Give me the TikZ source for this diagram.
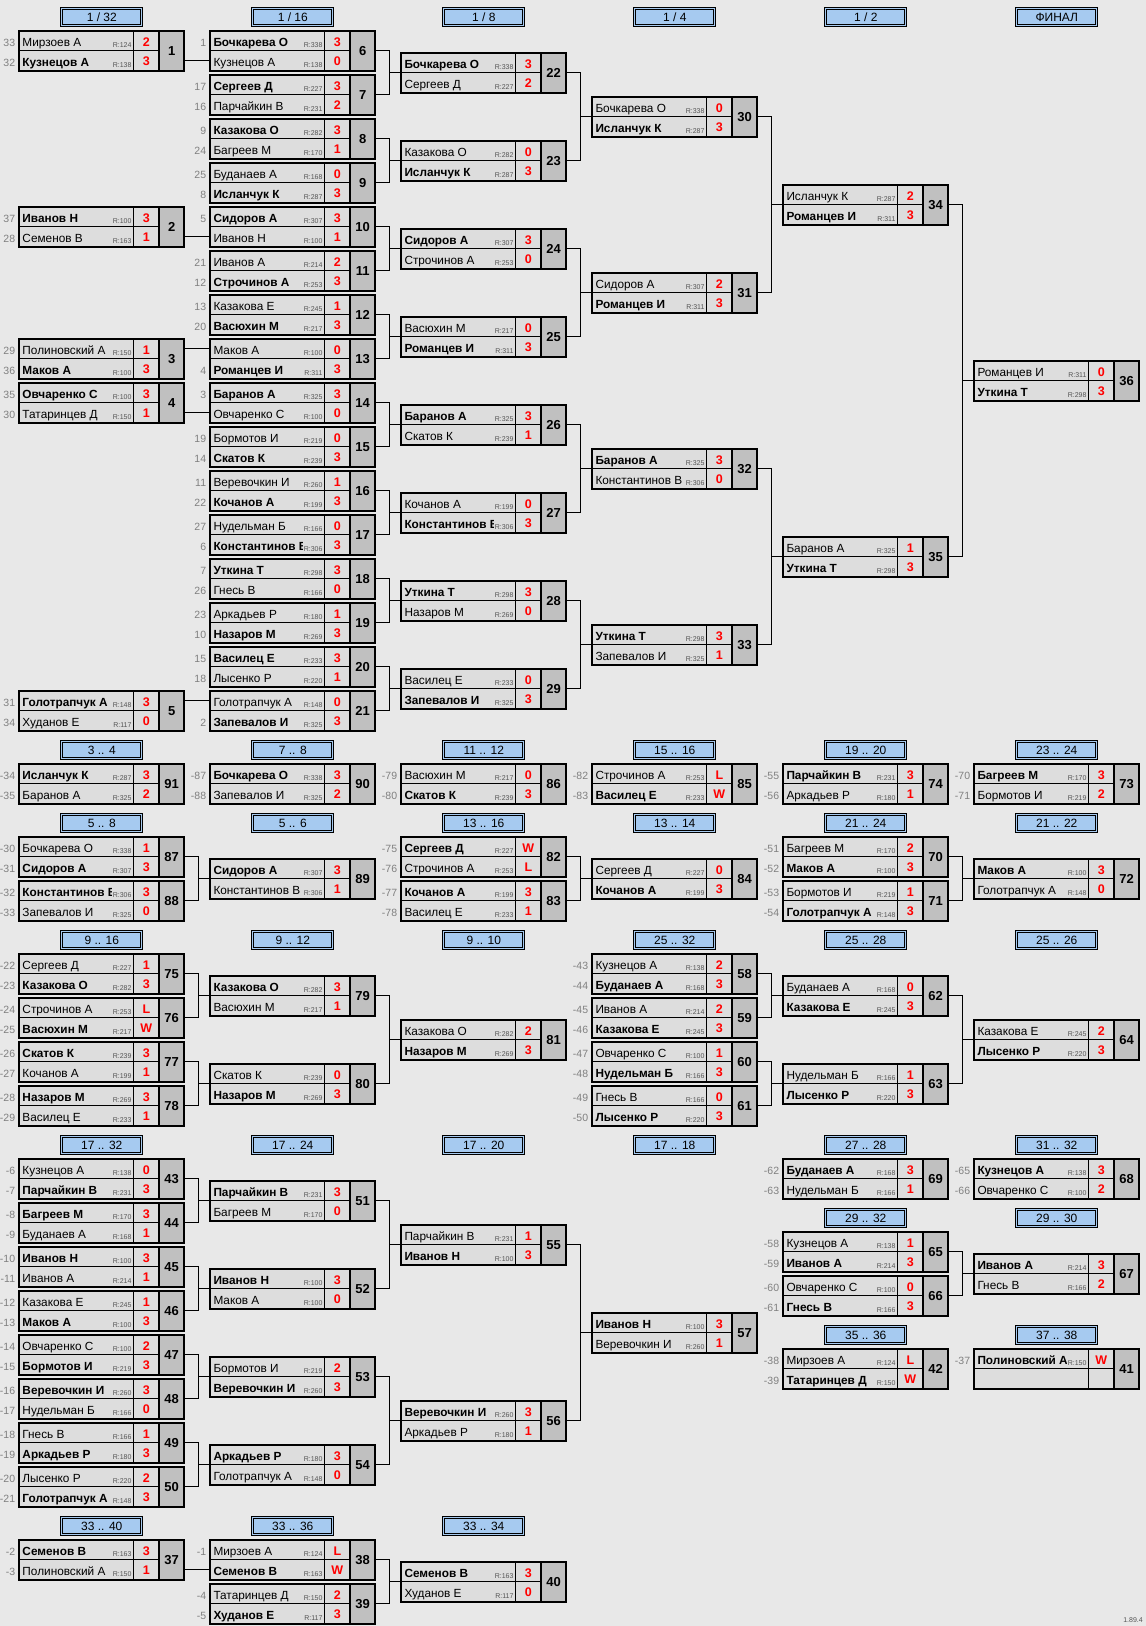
\documentclass[tikz,border=0pt]{standalone}
\usepackage{fontspec}
\setmainfont{Liberation Sans}
\definecolor{pagegray}{RGB}{232,232,232}
\definecolor{cellgray}{RGB}{221,221,221}
\definecolor{numgray}{RGB}{192,192,192}
\definecolor{headblue}{RGB}{166,202,240}
\definecolor{seedgray}{RGB}{128,128,128}
\definecolor{rategray}{RGB}{85,85,85}
\tikzset{
  gbox/.style={draw, line width=2pt, fill=cellgray, minimum width=165pt, minimum height=39.5pt, inner sep=0pt, outer sep=0pt, anchor=north west},
  numcell/.style={draw, line width=2pt, fill=numgray, minimum width=25.3pt, minimum height=39.5pt, inner sep=0pt, outer sep=0pt, anchor=east, font=\fontsize{13}{13}\selectfont\bfseries},
  rowcell/.style={minimum width=114.4pt, minimum height=19.75pt, inner sep=0pt, outer sep=0pt},
  cellline/.style={line width=0.8pt},
  link/.style={line width=0.9pt},
  seed/.style={anchor=east, text=seedgray, inner sep=0pt, text height=8.5pt, text depth=0pt, yshift=-1.3pt, font=\fontsize{10.5}{11}\selectfont},
  loser/.style={anchor=west, inner sep=0pt, xshift=3pt, yshift=-1.3pt, text height=8.5pt, text depth=0pt, font=\fontsize{11.8}{12}\selectfont},
  winner/.style={loser, font=\fontsize{11.8}{12}\selectfont\bfseries},
  rate/.style={anchor=south east, fill=cellgray, inner xsep=1pt, inner ysep=2pt, text height=13pt, xshift=-1pt, yshift=1pt, text=rategray, font=\fontsize{7}{7}\selectfont},
  pts/.style={inner sep=0pt, text height=8.6pt, text depth=0pt, yshift=-1pt, text=red, font=\fontsize{12.5}{12}\selectfont\bfseries},
  hdr/.style={draw, double=headblue, double distance=1.2pt, line width=0.8pt, fill=headblue, minimum width=80pt, minimum height=16.4pt, inner sep=0pt, font=\fontsize{12}{12}\selectfont}
}
% one game box: id, x, top, number
\newcommand{\game}[4]{%
  \node[gbox] (#1) at (#2,#3) {};
  \node[rowcell, anchor=north west] (#1-1) at (#1.north west) {};
  \node[rowcell, anchor=south west] (#1-2) at (#1.south west) {};
  \node[numcell] (#1-n) at (#1.east) {#4};
  \draw[cellline] (#1.west) -- (#1-n.west);
  \draw[cellline] (#1-1.north east) -- (#1-2.south east);
}
% one player row: id, row, seed, name, rating, score, style
\newcommand{\pl}[7]{%
  \node[seed] (#1-#2-s) at ([xshift=-4pt]#1-#2.west) {#3};
  \node[#7] (#1-#2-p) at (#1-#2.west) {#4};
  \node[rate] (#1-#2-r) at (#1-#2.south east) {R:#5};
  \node[pts] (#1-#2-x) at ([xshift=12.65pt]#1-#2.east) {#6};
}
\newcommand{\win}[6]{\pl{#1}{#2}{#3}{#4}{#5}{#6}{winner}}
\newcommand{\lose}[6]{\pl{#1}{#2}{#3}{#4}{#5}{#6}{loser}}
% two games into the next one
\newcommand{\feed}[3]{%
  \draw[link] (#1-n.east) -- ++(14,0) |- (#2-n.east);
  \draw[link] (#3.west) -- ++(-12,0);
}
% winner line straight into a row of the next game
\newcommand{\carry}[3]{\draw[link] (#1-n.east |- #2-#3) -- (#2-#3.west);}

\begin{document}
\begin{tikzpicture}[x=1pt,y=-1pt]
  \def\xa{19.3}
  \def\xb{210.3}
  \def\xc{401.3}
  \def\xd{592.3}
  \def\xe{783.3}
  \def\xf{974.3}
  \fill[pagegray] (0,0) rectangle (1146,1626);
  \useasboundingbox (0,0) rectangle (1146,1626);

  % headers
  \node[hdr] (h1) at (\xa+82.5,17) {1 / 32};
  \node[hdr] (h2) at (\xb+82.5,17) {1 / 16};
  \node[hdr] (h3) at (\xc+82.5,17) {1 / 8};
  \node[hdr] (h4) at (\xd+82.5,17) {1 / 4};
  \node[hdr] (h5) at (\xe+82.5,17) {1 / 2};
  \node[hdr] (h6) at (\xf+82.5,17) {ФИНАЛ};

  \node[hdr] (ha1) at (\xa+82.5,750) {3 .. 4};
  \node[hdr] (ha2) at (\xb+82.5,750) {7 .. 8};
  \node[hdr] (ha3) at (\xc+82.5,750) {11 .. 12};
  \node[hdr] (ha4) at (\xd+82.5,750) {15 .. 16};
  \node[hdr] (ha5) at (\xe+82.5,750) {19 .. 20};
  \node[hdr] (ha6) at (\xf+82.5,750) {23 .. 24};

  \node[hdr] (hb1) at (\xa+82.5,823) {5 .. 8};
  \node[hdr] (hb2) at (\xb+82.5,823) {5 .. 6};
  \node[hdr] (hb3) at (\xc+82.5,823) {13 .. 16};
  \node[hdr] (hb4) at (\xd+82.5,823) {13 .. 14};
  \node[hdr] (hb5) at (\xe+82.5,823) {21 .. 24};
  \node[hdr] (hb6) at (\xf+82.5,823) {21 .. 22};

  \node[hdr] (hc1) at (\xa+82.5,940) {9 .. 16};
  \node[hdr] (hc2) at (\xb+82.5,940) {9 .. 12};
  \node[hdr] (hc3) at (\xc+82.5,940) {9 .. 10};
  \node[hdr] (hc4) at (\xd+82.5,940) {25 .. 32};
  \node[hdr] (hc5) at (\xe+82.5,940) {25 .. 28};
  \node[hdr] (hc6) at (\xf+82.5,940) {25 .. 26};

  \node[hdr] (hd1) at (\xa+82.5,1145) {17 .. 32};
  \node[hdr] (hd2) at (\xb+82.5,1145) {17 .. 24};
  \node[hdr] (hd3) at (\xc+82.5,1145) {17 .. 20};
  \node[hdr] (hd4) at (\xd+82.5,1145) {17 .. 18};
  \node[hdr] (hd5) at (\xe+82.5,1145) {27 .. 28};
  \node[hdr] (hd6) at (\xf+82.5,1145) {31 .. 32};
  \node[hdr] (he5) at (\xe+82.5,1218) {29 .. 32};
  \node[hdr] (he6) at (\xf+82.5,1218) {29 .. 30};
  \node[hdr] (hf5) at (\xe+82.5,1335) {35 .. 36};
  \node[hdr] (hf6) at (\xf+82.5,1335) {37 .. 38};

  \node[hdr] (hg1) at (\xa+82.5,1526) {33 .. 40};
  \node[hdr] (hg2) at (\xb+82.5,1526) {33 .. 36};
  \node[hdr] (hg3) at (\xc+82.5,1526) {33 .. 34};

  % 1/32
  \game{m1}{\xa}{31}{1}
  \lose{m1}{1}{33}{Мирзоев А}{124}{2}
  \win{m1}{2}{32}{Кузнецов А}{138}{3}
  \game{m2}{\xa}{207}{2}
  \win{m2}{1}{37}{Иванов Н}{100}{3}
  \lose{m2}{2}{28}{Семенов В}{163}{1}
  \game{m3}{\xa}{339}{3}
  \lose{m3}{1}{29}{Полиновский А}{150}{1}
  \win{m3}{2}{36}{Маков А}{100}{3}
  \game{m4}{\xa}{383}{4}
  \win{m4}{1}{35}{Овчаренко С}{100}{3}
  \lose{m4}{2}{30}{Татаринцев Д}{150}{1}
  \game{m5}{\xa}{691}{5}
  \win{m5}{1}{31}{Голотрапчук А}{148}{3}
  \lose{m5}{2}{34}{Худанов Е}{117}{0}

  % 1/16
  \game{m6}{\xb}{31}{6}
  \win{m6}{1}{1}{Бочкарева О}{338}{3}
  \lose{m6}{2}{}{Кузнецов А}{138}{0}
  \game{m7}{\xb}{75}{7}
  \win{m7}{1}{17}{Сергеев Д}{227}{3}
  \lose{m7}{2}{16}{Парчайкин В}{231}{2}
  \game{m8}{\xb}{119}{8}
  \win{m8}{1}{9}{Казакова О}{282}{3}
  \lose{m8}{2}{24}{Багреев М}{170}{1}
  \game{m9}{\xb}{163}{9}
  \lose{m9}{1}{25}{Буданаев А}{168}{0}
  \win{m9}{2}{8}{Исланчук К}{287}{3}
  \game{m10}{\xb}{207}{10}
  \win{m10}{1}{5}{Сидоров А}{307}{3}
  \lose{m10}{2}{}{Иванов Н}{100}{1}
  \game{m11}{\xb}{251}{11}
  \lose{m11}{1}{21}{Иванов А}{214}{2}
  \win{m11}{2}{12}{Строчинов А}{253}{3}
  \game{m12}{\xb}{295}{12}
  \lose{m12}{1}{13}{Казакова Е}{245}{1}
  \win{m12}{2}{20}{Васюхин М}{217}{3}
  \game{m13}{\xb}{339}{13}
  \lose{m13}{1}{}{Маков А}{100}{0}
  \win{m13}{2}{4}{Романцев И}{311}{3}
  \game{m14}{\xb}{383}{14}
  \win{m14}{1}{3}{Баранов А}{325}{3}
  \lose{m14}{2}{}{Овчаренко С}{100}{0}
  \game{m15}{\xb}{427}{15}
  \lose{m15}{1}{19}{Бормотов И}{219}{0}
  \win{m15}{2}{14}{Скатов К}{239}{3}
  \game{m16}{\xb}{471}{16}
  \lose{m16}{1}{11}{Веревочкин И}{260}{1}
  \win{m16}{2}{22}{Кочанов А}{199}{3}
  \game{m17}{\xb}{515}{17}
  \lose{m17}{1}{27}{Нудельман Б}{166}{0}
  \win{m17}{2}{6}{Константинов В}{306}{3}
  \game{m18}{\xb}{559}{18}
  \win{m18}{1}{7}{Уткина Т}{298}{3}
  \lose{m18}{2}{26}{Гнесь В}{166}{0}
  \game{m19}{\xb}{603}{19}
  \lose{m19}{1}{23}{Аркадьев Р}{180}{1}
  \win{m19}{2}{10}{Назаров М}{269}{3}
  \game{m20}{\xb}{647}{20}
  \win{m20}{1}{15}{Василец Е}{233}{3}
  \lose{m20}{2}{18}{Лысенко Р}{220}{1}
  \game{m21}{\xb}{691}{21}
  \lose{m21}{1}{}{Голотрапчук А}{148}{0}
  \win{m21}{2}{2}{Запевалов И}{325}{3}

  % 1/8
  \game{m22}{\xc}{53}{22}
  \win{m22}{1}{}{Бочкарева О}{338}{3}
  \lose{m22}{2}{}{Сергеев Д}{227}{2}
  \game{m23}{\xc}{141}{23}
  \lose{m23}{1}{}{Казакова О}{282}{0}
  \win{m23}{2}{}{Исланчук К}{287}{3}
  \game{m24}{\xc}{229}{24}
  \win{m24}{1}{}{Сидоров А}{307}{3}
  \lose{m24}{2}{}{Строчинов А}{253}{0}
  \game{m25}{\xc}{317}{25}
  \lose{m25}{1}{}{Васюхин М}{217}{0}
  \win{m25}{2}{}{Романцев И}{311}{3}
  \game{m26}{\xc}{405}{26}
  \win{m26}{1}{}{Баранов А}{325}{3}
  \lose{m26}{2}{}{Скатов К}{239}{1}
  \game{m27}{\xc}{493}{27}
  \lose{m27}{1}{}{Кочанов А}{199}{0}
  \win{m27}{2}{}{Константинов В}{306}{3}
  \game{m28}{\xc}{581}{28}
  \win{m28}{1}{}{Уткина Т}{298}{3}
  \lose{m28}{2}{}{Назаров М}{269}{0}
  \game{m29}{\xc}{669}{29}
  \lose{m29}{1}{}{Василец Е}{233}{0}
  \win{m29}{2}{}{Запевалов И}{325}{3}

  % 1/4
  \game{m30}{\xd}{97}{30}
  \lose{m30}{1}{}{Бочкарева О}{338}{0}
  \win{m30}{2}{}{Исланчук К}{287}{3}
  \game{m31}{\xd}{273}{31}
  \lose{m31}{1}{}{Сидоров А}{307}{2}
  \win{m31}{2}{}{Романцев И}{311}{3}
  \game{m32}{\xd}{449}{32}
  \win{m32}{1}{}{Баранов А}{325}{3}
  \lose{m32}{2}{}{Константинов В}{306}{0}
  \game{m33}{\xd}{625}{33}
  \win{m33}{1}{}{Уткина Т}{298}{3}
  \lose{m33}{2}{}{Запевалов И}{325}{1}

  % 1/2 and final
  \game{m34}{\xe}{185}{34}
  \lose{m34}{1}{}{Исланчук К}{287}{2}
  \win{m34}{2}{}{Романцев И}{311}{3}
  \game{m35}{\xe}{537}{35}
  \lose{m35}{1}{}{Баранов А}{325}{1}
  \win{m35}{2}{}{Уткина Т}{298}{3}
  \game{m36}{\xf}{361}{36}
  \lose{m36}{1}{}{Романцев И}{311}{0}
  \win{m36}{2}{}{Уткина Т}{298}{3}

  \carry{m1}{m6}{2}
  \carry{m2}{m10}{2}
  \carry{m3}{m13}{1}
  \carry{m4}{m14}{2}
  \carry{m5}{m21}{1}
  \feed{m6}{m7}{m22}
  \feed{m8}{m9}{m23}
  \feed{m10}{m11}{m24}
  \feed{m12}{m13}{m25}
  \feed{m14}{m15}{m26}
  \feed{m16}{m17}{m27}
  \feed{m18}{m19}{m28}
  \feed{m20}{m21}{m29}
  \feed{m22}{m23}{m30}
  \feed{m24}{m25}{m31}
  \feed{m26}{m27}{m32}
  \feed{m28}{m29}{m33}
  \feed{m30}{m31}{m34}
  \feed{m32}{m33}{m35}
  \feed{m34}{m35}{m36}

  % places 3..24
  \game{m91}{\xa}{764}{91}
  \win{m91}{1}{-34}{Исланчук К}{287}{3}
  \lose{m91}{2}{-35}{Баранов А}{325}{2}
  \game{m90}{\xb}{764}{90}
  \win{m90}{1}{-87}{Бочкарева О}{338}{3}
  \lose{m90}{2}{-88}{Запевалов И}{325}{2}
  \game{m86}{\xc}{764}{86}
  \lose{m86}{1}{-79}{Васюхин М}{217}{0}
  \win{m86}{2}{-80}{Скатов К}{239}{3}
  \game{m85}{\xd}{764}{85}
  \lose{m85}{1}{-82}{Строчинов А}{253}{L}
  \win{m85}{2}{-83}{Василец Е}{233}{W}
  \game{m74}{\xe}{764}{74}
  \win{m74}{1}{-55}{Парчайкин В}{231}{3}
  \lose{m74}{2}{-56}{Аркадьев Р}{180}{1}
  \game{m73}{\xf}{764}{73}
  \win{m73}{1}{-70}{Багреев М}{170}{3}
  \lose{m73}{2}{-71}{Бормотов И}{219}{2}

  \game{m87}{\xa}{837}{87}
  \lose{m87}{1}{-30}{Бочкарева О}{338}{1}
  \win{m87}{2}{-31}{Сидоров А}{307}{3}
  \game{m88}{\xa}{881}{88}
  \win{m88}{1}{-32}{Константинов В}{306}{3}
  \lose{m88}{2}{-33}{Запевалов И}{325}{0}
  \game{m89}{\xb}{859}{89}
  \win{m89}{1}{}{Сидоров А}{307}{3}
  \lose{m89}{2}{}{Константинов В}{306}{1}
  \game{m82}{\xc}{837}{82}
  \win{m82}{1}{-75}{Сергеев Д}{227}{W}
  \lose{m82}{2}{-76}{Строчинов А}{253}{L}
  \game{m83}{\xc}{881}{83}
  \win{m83}{1}{-77}{Кочанов А}{199}{3}
  \lose{m83}{2}{-78}{Василец Е}{233}{1}
  \game{m84}{\xd}{859}{84}
  \lose{m84}{1}{}{Сергеев Д}{227}{0}
  \win{m84}{2}{}{Кочанов А}{199}{3}
  \game{m70}{\xe}{837}{70}
  \lose{m70}{1}{-51}{Багреев М}{170}{2}
  \win{m70}{2}{-52}{Маков А}{100}{3}
  \game{m71}{\xe}{881}{71}
  \lose{m71}{1}{-53}{Бормотов И}{219}{1}
  \win{m71}{2}{-54}{Голотрапчук А}{148}{3}
  \game{m72}{\xf}{859}{72}
  \win{m72}{1}{}{Маков А}{100}{3}
  \lose{m72}{2}{}{Голотрапчук А}{148}{0}
  \feed{m87}{m88}{m89}
  \feed{m82}{m83}{m84}
  \feed{m70}{m71}{m72}

  % places 9..16, 25..32
  \game{m75}{\xa}{954}{75}
  \lose{m75}{1}{-22}{Сергеев Д}{227}{1}
  \win{m75}{2}{-23}{Казакова О}{282}{3}
  \game{m76}{\xa}{998}{76}
  \lose{m76}{1}{-24}{Строчинов А}{253}{L}
  \win{m76}{2}{-25}{Васюхин М}{217}{W}
  \game{m77}{\xa}{1042}{77}
  \win{m77}{1}{-26}{Скатов К}{239}{3}
  \lose{m77}{2}{-27}{Кочанов А}{199}{1}
  \game{m78}{\xa}{1086}{78}
  \win{m78}{1}{-28}{Назаров М}{269}{3}
  \lose{m78}{2}{-29}{Василец Е}{233}{1}
  \game{m79}{\xb}{976}{79}
  \win{m79}{1}{}{Казакова О}{282}{3}
  \lose{m79}{2}{}{Васюхин М}{217}{1}
  \game{m80}{\xb}{1064}{80}
  \lose{m80}{1}{}{Скатов К}{239}{0}
  \win{m80}{2}{}{Назаров М}{269}{3}
  \game{m81}{\xc}{1020}{81}
  \lose{m81}{1}{}{Казакова О}{282}{2}
  \win{m81}{2}{}{Назаров М}{269}{3}
  \game{m58}{\xd}{954}{58}
  \lose{m58}{1}{-43}{Кузнецов А}{138}{2}
  \win{m58}{2}{-44}{Буданаев А}{168}{3}
  \game{m59}{\xd}{998}{59}
  \lose{m59}{1}{-45}{Иванов А}{214}{2}
  \win{m59}{2}{-46}{Казакова Е}{245}{3}
  \game{m60}{\xd}{1042}{60}
  \lose{m60}{1}{-47}{Овчаренко С}{100}{1}
  \win{m60}{2}{-48}{Нудельман Б}{166}{3}
  \game{m61}{\xd}{1086}{61}
  \lose{m61}{1}{-49}{Гнесь В}{166}{0}
  \win{m61}{2}{-50}{Лысенко Р}{220}{3}
  \game{m62}{\xe}{976}{62}
  \lose{m62}{1}{}{Буданаев А}{168}{0}
  \win{m62}{2}{}{Казакова Е}{245}{3}
  \game{m63}{\xe}{1064}{63}
  \lose{m63}{1}{}{Нудельман Б}{166}{1}
  \win{m63}{2}{}{Лысенко Р}{220}{3}
  \game{m64}{\xf}{1020}{64}
  \lose{m64}{1}{}{Казакова Е}{245}{2}
  \win{m64}{2}{}{Лысенко Р}{220}{3}
  \feed{m75}{m76}{m79}
  \feed{m77}{m78}{m80}
  \feed{m79}{m80}{m81}
  \feed{m58}{m59}{m62}
  \feed{m60}{m61}{m63}
  \feed{m62}{m63}{m64}

  % places 17..32, 35..38
  \game{m43}{\xa}{1159}{43}
  \lose{m43}{1}{-6}{Кузнецов А}{138}{0}
  \win{m43}{2}{-7}{Парчайкин В}{231}{3}
  \game{m44}{\xa}{1203}{44}
  \win{m44}{1}{-8}{Багреев М}{170}{3}
  \lose{m44}{2}{-9}{Буданаев А}{168}{1}
  \game{m45}{\xa}{1247}{45}
  \win{m45}{1}{-10}{Иванов Н}{100}{3}
  \lose{m45}{2}{-11}{Иванов А}{214}{1}
  \game{m46}{\xa}{1291}{46}
  \lose{m46}{1}{-12}{Казакова Е}{245}{1}
  \win{m46}{2}{-13}{Маков А}{100}{3}
  \game{m47}{\xa}{1335}{47}
  \lose{m47}{1}{-14}{Овчаренко С}{100}{2}
  \win{m47}{2}{-15}{Бормотов И}{219}{3}
  \game{m48}{\xa}{1379}{48}
  \win{m48}{1}{-16}{Веревочкин И}{260}{3}
  \lose{m48}{2}{-17}{Нудельман Б}{166}{0}
  \game{m49}{\xa}{1423}{49}
  \lose{m49}{1}{-18}{Гнесь В}{166}{1}
  \win{m49}{2}{-19}{Аркадьев Р}{180}{3}
  \game{m50}{\xa}{1467}{50}
  \lose{m50}{1}{-20}{Лысенко Р}{220}{2}
  \win{m50}{2}{-21}{Голотрапчук А}{148}{3}
  \game{m51}{\xb}{1181}{51}
  \win{m51}{1}{}{Парчайкин В}{231}{3}
  \lose{m51}{2}{}{Багреев М}{170}{0}
  \game{m52}{\xb}{1269}{52}
  \win{m52}{1}{}{Иванов Н}{100}{3}
  \lose{m52}{2}{}{Маков А}{100}{0}
  \game{m53}{\xb}{1357}{53}
  \lose{m53}{1}{}{Бормотов И}{219}{2}
  \win{m53}{2}{}{Веревочкин И}{260}{3}
  \game{m54}{\xb}{1445}{54}
  \win{m54}{1}{}{Аркадьев Р}{180}{3}
  \lose{m54}{2}{}{Голотрапчук А}{148}{0}
  \game{m55}{\xc}{1225}{55}
  \lose{m55}{1}{}{Парчайкин В}{231}{1}
  \win{m55}{2}{}{Иванов Н}{100}{3}
  \game{m56}{\xc}{1401}{56}
  \win{m56}{1}{}{Веревочкин И}{260}{3}
  \lose{m56}{2}{}{Аркадьев Р}{180}{1}
  \game{m57}{\xd}{1313}{57}
  \win{m57}{1}{}{Иванов Н}{100}{3}
  \lose{m57}{2}{}{Веревочкин И}{260}{1}
  \feed{m43}{m44}{m51}
  \feed{m45}{m46}{m52}
  \feed{m47}{m48}{m53}
  \feed{m49}{m50}{m54}
  \feed{m51}{m52}{m55}
  \feed{m53}{m54}{m56}
  \feed{m55}{m56}{m57}

  \game{m69}{\xe}{1159}{69}
  \win{m69}{1}{-62}{Буданаев А}{168}{3}
  \lose{m69}{2}{-63}{Нудельман Б}{166}{1}
  \game{m68}{\xf}{1159}{68}
  \win{m68}{1}{-65}{Кузнецов А}{138}{3}
  \lose{m68}{2}{-66}{Овчаренко С}{100}{2}
  \game{m65}{\xe}{1232}{65}
  \lose{m65}{1}{-58}{Кузнецов А}{138}{1}
  \win{m65}{2}{-59}{Иванов А}{214}{3}
  \game{m66}{\xe}{1276}{66}
  \lose{m66}{1}{-60}{Овчаренко С}{100}{0}
  \win{m66}{2}{-61}{Гнесь В}{166}{3}
  \game{m67}{\xf}{1254}{67}
  \win{m67}{1}{}{Иванов А}{214}{3}
  \lose{m67}{2}{}{Гнесь В}{166}{2}
  \feed{m65}{m66}{m67}
  \game{m42}{\xe}{1349}{42}
  \lose{m42}{1}{-38}{Мирзоев А}{124}{L}
  \win{m42}{2}{-39}{Татаринцев Д}{150}{W}
  \game{m41}{\xf}{1349}{41}
  \win{m41}{1}{-37}{Полиновский А}{150}{W}

  % places 33..40
  \game{m37}{\xa}{1540}{37}
  \win{m37}{1}{-2}{Семенов В}{163}{3}
  \lose{m37}{2}{-3}{Полиновский А}{150}{1}
  \game{m38}{\xb}{1540}{38}
  \lose{m38}{1}{-1}{Мирзоев А}{124}{L}
  \win{m38}{2}{}{Семенов В}{163}{W}
  \game{m39}{\xb}{1584}{39}
  \lose{m39}{1}{-4}{Татаринцев Д}{150}{2}
  \win{m39}{2}{-5}{Худанов Е}{117}{3}
  \game{m40}{\xc}{1562}{40}
  \win{m40}{1}{}{Семенов В}{163}{3}
  \lose{m40}{2}{}{Худанов Е}{117}{0}
  \carry{m37}{m38}{2}
  \feed{m38}{m39}{m40}

  \node[anchor=south east, inner sep=0pt, text=rategray, font=\fontsize{7}{7}\selectfont] (ver) at (1143,1623) {1.89.4};
\end{tikzpicture}
\end{document}
